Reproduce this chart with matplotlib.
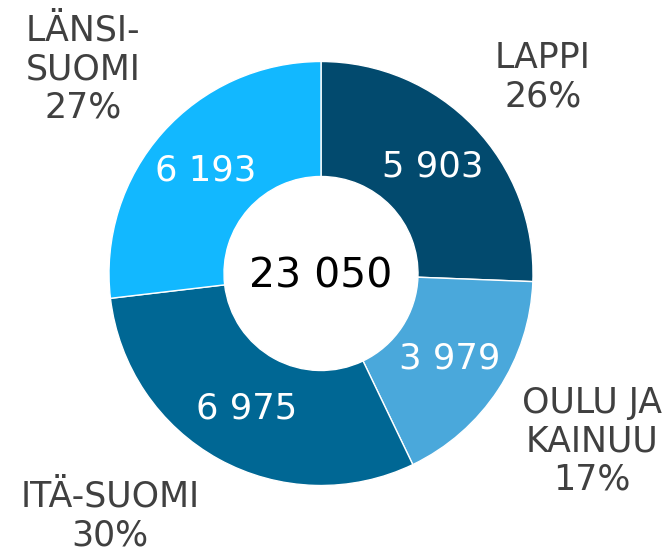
import numpy as np
import matplotlib
matplotlib.use('Agg')
import matplotlib.pyplot as plt

# Data
regions = ['LAPPI', 'OULU JA\nKAINUU', 'ITÄ-SUOMI', 'LÄNSI-\nSUOMI']
values = [5903, 3979, 6975, 6193]
pct_labels = ['26%', '17%', '30%', '27%']
colors = ['#024a6e', '#4aa8db', '#006794', '#12b8ff']

total = sum(values)


def fmt(n):
    # Finnish style thousands separator (space)
    return f'{n:,}'.replace(',', ' ')


W, H = 670, 553
fig = plt.figure(figsize=(W / 100, H / 100), dpi=100)
ax = fig.add_axes([0, 0, 1, 1])

cx, cy = 321, H - 273.5
r_out, r_in = 212, 97

ax.pie(values, colors=colors, startangle=90, counterclock=False,
       radius=r_out, center=(cx, cy),
       wedgeprops=dict(width=r_out - r_in, edgecolor='white', linewidth=1))

ax.set_xlim(0, W)
ax.set_ylim(0, H)
ax.set_aspect('equal')
ax.axis('off')

# value labels in the middle of the ring
cum = np.cumsum([0] + values[:-1])
r_mid = (r_out + r_in) / 2
for v, c in zip(values, cum):
    ang = np.deg2rad(90 - (c + v / 2) / total * 360)
    ax.text(cx + r_mid * np.cos(ang), cy + r_mid * np.sin(ang), fmt(v),
            color='white', fontsize=25.5, ha='center', va='center')

# total in the hole
ax.text(cx, H - 277, fmt(total), color='black', fontsize=29.5,
        ha='center', va='center')

# outer category labels
label_pos = [(543, 77), (592, 441), (110, 516), (83, 69)]
for name, p, (x, y) in zip(regions, pct_labels, label_pos):
    ax.text(x, H - y, name + '\n' + p, color='#404040', fontsize=25,
            ha='center', va='center', linespacing=1.15)

fig.savefig('out.png', dpi=100)
